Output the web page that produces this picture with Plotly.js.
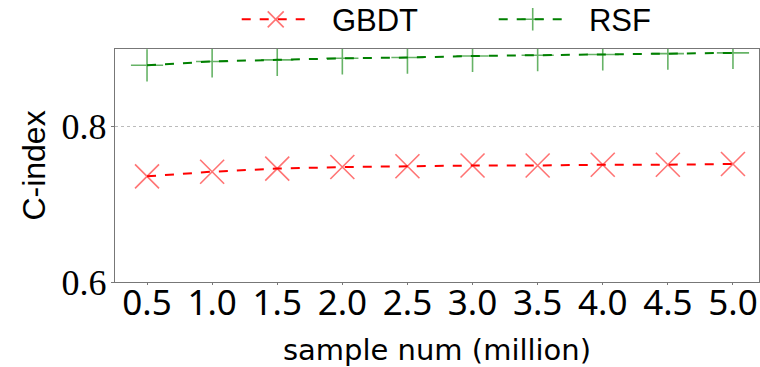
<!DOCTYPE html>
<html>
<head>
<meta charset="utf-8">
<script src="https://cdn.plot.ly/plotly-3.0.1.min.js"></script>
<style>
  html, body { margin: 0; padding: 0; background: #fff; }
  #chart { width: 760px; height: 367px; }
</style>
</head>
<body>
<div id="chart"></div>
<script>
// Training set size in millions of samples
const sampleNum = [0.5, 1.0, 1.5, 2.0, 2.5, 3.0, 3.5, 4.0, 4.5, 5.0];
const xTickLabels = ['0.5', '1.0', '1.5', '2.0', '2.5', '3.0', '3.5', '4.0', '4.5', '5.0'];

// C-index per model
const gbdtCIndex = [0.736, 0.742, 0.746, 0.748, 0.749, 0.750, 0.750, 0.751, 0.751, 0.752];
const rsfCIndex  = [0.879, 0.884, 0.886, 0.888, 0.889, 0.891, 0.892, 0.893, 0.894, 0.895];

const yTickVals = [0.6, 0.8];
const yTickLabels = ['0.6', '0.8'];

const sans = 'Liberation Sans, DejaVu Sans, sans-serif';
const wideSans = 'DejaVu Sans, Liberation Sans, sans-serif';
const tickSans = 'Noto Sans, Liberation Sans, sans-serif';
const serif = 'Liberation Serif, DejaVu Serif, serif';

// non-breaking spaces keep a gap between legend swatch and label
const gap = '\u00a0\u00a0';

const traces = [
  {
    x: sampleNum, y: gbdtCIndex, name: gap + 'GBDT',
    type: 'scatter', mode: 'lines+markers',
    line: { color: 'rgb(255,0,0)', width: 2, dash: 'dash' },
    marker: { symbol: 'x-thin', size: 24, color: 'rgba(255,0,0,0.6)',
              line: { color: 'rgba(255,0,0,0.55)', width: 1.6 } }
  },
  {
    x: sampleNum, y: rsfCIndex, name: gap + 'RSF',
    type: 'scatter', mode: 'lines+markers',
    line: { color: 'rgb(0,128,0)', width: 2, dash: 'dash' },
    marker: { symbol: 'cross-thin', size: 23, color: 'rgba(0,128,0,0.6)',
              line: { color: 'rgba(0,128,0,0.6)', width: 1.6 } }
  }
];

const layout = {
  width: 760, height: 367,
  margin: { l: 115, r: 1, t: 49, b: 85, autoexpand: false },
  paper_bgcolor: '#fff', plot_bgcolor: '#fff',
  showlegend: true,
  legend: {
    orientation: 'h', x: 0.189, xanchor: 'left', y: 1.01, yanchor: 'bottom',
    font: { family: sans, size: 31, color: '#000' },
    itemwidth: 68, entrywidth: 174, entrywidthmode: 'pixels',
    bgcolor: 'rgba(0,0,0,0)', traceorder: 'normal'
  },
  xaxis: {
    range: [0.254, 5.2],
    tickmode: 'array', tickvals: sampleNum, ticktext: xTickLabels,
    tickfont: { family: tickSans, size: 35, color: '#000' },
    ticklabelstandoff: -12,
    ticks: 'outside', ticklen: 2, tickcolor: '#777',
    showline: true, linecolor: '#777', linewidth: 1.2, mirror: true,
    showgrid: false, zeroline: false,
    title: { text: 'sample num (million)', font: { family: wideSans, size: 29, color: '#000' }, standoff: 19 }
  },
  yaxis: {
    range: [0.6, 0.9],
    tickmode: 'array', tickvals: yTickVals, ticktext: yTickLabels,
    tickfont: { family: serif, size: 36, color: '#000' },
    ticklabelstandoff: -3,
    ticks: 'outside', ticklen: 3, tickcolor: '#777',
    showline: true, linecolor: '#777', linewidth: 1.2, mirror: true,
    showgrid: true, gridcolor: '#bbb', griddash: 'dot', gridwidth: 1,
    zeroline: false,
    title: { text: 'C-index', font: { family: sans, size: 32, color: '#000' }, standoff: 6 }
  }
};

Plotly.newPlot('chart', traces, layout, { staticPlot: true, displayModeBar: false });
</script>
</body>
</html>
